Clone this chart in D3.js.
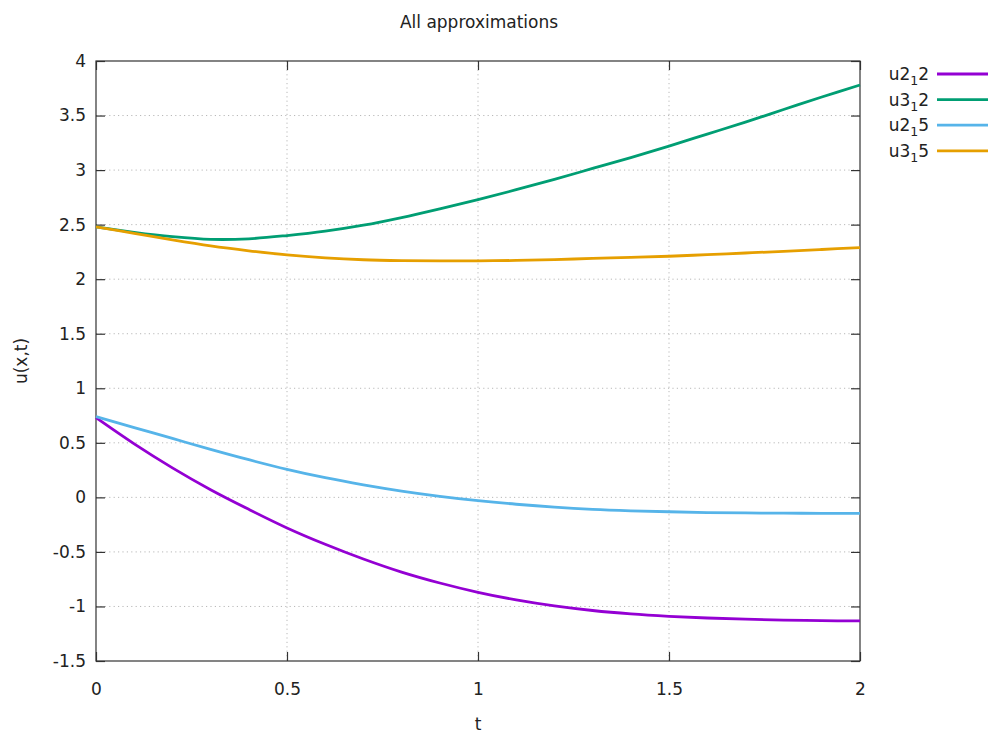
<!DOCTYPE html>
<html>
<head>
<meta charset="utf-8">
<script src="https://cdn.jsdelivr.net/npm/d3@7"></script>
<style>
  body { margin: 0; background: #fff; }
</style>
</head>
<body>
<svg id="chart" width="988" height="733"></svg>
<script>
// t values sampled along the curves
const tValues = [0, 0.1, 0.2, 0.3, 0.4, 0.5, 0.6, 0.7, 0.8, 0.9, 1.0,
                 1.1, 1.2, 1.3, 1.4, 1.5, 1.6, 1.7, 1.8, 1.9, 2.0];

const u2_1_2 = [0.73, 0.49, 0.27, 0.07, -0.11, -0.28, -0.43, -0.565, -0.685, -0.785, -0.87,
                -0.94, -0.995, -1.037, -1.068, -1.09, -1.106, -1.117, -1.125, -1.13, -1.133];
const u3_1_2 = [2.48, 2.43, 2.39, 2.365, 2.37, 2.40, 2.44, 2.495, 2.565, 2.645, 2.73,
                2.82, 2.915, 3.015, 3.115, 3.22, 3.33, 3.44, 3.555, 3.67, 3.78];
const u2_1_5 = [0.74, 0.64, 0.54, 0.44, 0.345, 0.257, 0.18, 0.115, 0.058, 0.01, -0.03,
                -0.063, -0.09, -0.11, -0.123, -0.132, -0.139, -0.143, -0.145, -0.146, -0.147];
const u3_1_5 = [2.48, 2.42, 2.36, 2.305, 2.26, 2.222, 2.195, 2.178, 2.17, 2.167, 2.168,
                2.172, 2.18, 2.19, 2.20, 2.21, 2.225, 2.24, 2.255, 2.272, 2.29];

const seriesNames = [['u2', '1', '2'], ['u3', '1', '2'], ['u2', '1', '5'], ['u3', '1', '5']];
const seriesValues = [u2_1_2, u3_1_2, u2_1_5, u3_1_5];
const seriesColors = ['#9400d3', '#009e73', '#56b4e9', '#e69f00'];

const xTicks = [0, 0.5, 1, 1.5, 2];
const yTicks = [-1.5, -1, -0.5, 0, 0.5, 1, 1.5, 2, 2.5, 3, 3.5, 4];

const fontFamily = '"DejaVu Sans", Verdana, sans-serif';
const fontSize = '17px';

const svg = d3.select('#chart');
const margin = { top: 61, right: 128, bottom: 72, left: 96 };
const width = +svg.attr('width') - margin.left - margin.right;
const height = +svg.attr('height') - margin.top - margin.bottom;

const xScale = d3.scaleLinear().domain([0, 2]).range([margin.left, margin.left + width]);
const yScale = d3.scaleLinear().domain([-1.5, 4]).range([margin.top + height, margin.top]);

// grid
const grid = svg.append('g').attr('stroke', '#b8b8b8').attr('stroke-width', 1)
    .attr('stroke-dasharray', '1.2,3.2');
grid.selectAll('line.gx')
    .data(xTicks.slice(1, -1))
    .join('line')
    .attr('x1', d => xScale(d)).attr('x2', d => xScale(d))
    .attr('y1', margin.top).attr('y2', margin.top + height);
grid.selectAll('line.gy')
    .data(yTicks.slice(1, -1))
    .join('line')
    .attr('x1', margin.left).attr('x2', margin.left + width)
    .attr('y1', d => yScale(d)).attr('y2', d => yScale(d));

// axes with inward ticks, mirrored
const tickLen = 9;
const axisColor = '#333';
const fmt = d => String(d);
const xAxisB = svg.append('g').attr('transform', `translate(0,${margin.top + height})`)
    .call(d3.axisBottom(xScale).tickValues(xTicks).tickSize(-tickLen).tickPadding(22).tickFormat(fmt));
const xAxisT = svg.append('g').attr('transform', `translate(0,${margin.top})`)
    .call(d3.axisTop(xScale).tickValues(xTicks).tickSize(-tickLen).tickFormat(''));
const yAxisL = svg.append('g').attr('transform', `translate(${margin.left},0)`)
    .call(d3.axisLeft(yScale).tickValues(yTicks).tickSize(-tickLen).tickPadding(10).tickFormat(fmt));
const yAxisR = svg.append('g').attr('transform', `translate(${margin.left + width},0)`)
    .call(d3.axisRight(yScale).tickValues(yTicks).tickSize(-tickLen).tickFormat(''));

[xAxisB, xAxisT, yAxisL, yAxisR].forEach(a => {
    a.select('.domain').remove();
    a.selectAll('line').attr('stroke', axisColor).attr('stroke-width', 1.2);
    a.selectAll('text')
        .style('font-family', fontFamily)
        .style('font-size', fontSize)
        .style('fill', '#222');
});

svg.append('rect')
    .attr('x', margin.left).attr('y', margin.top)
    .attr('width', width).attr('height', height)
    .attr('fill', 'none').attr('stroke', axisColor).attr('stroke-width', 1.2);

// curves
const line = d3.line()
    .x((d, i) => xScale(tValues[i]))
    .y(d => yScale(d))
    .curve(d3.curveCatmullRom);

svg.selectAll('path.series')
    .data(seriesValues)
    .join('path')
    .attr('class', 'series')
    .attr('fill', 'none')
    .attr('stroke', (d, i) => seriesColors[i])
    .attr('stroke-width', 2.8)
    .attr('d', line);

// labels helper
function label(sel) {
    return sel.style('font-family', fontFamily).style('font-size', fontSize).style('fill', '#222');
}

// legend
const legend = svg.append('g');
seriesNames.forEach((name, i) => {
    const y = 74 + i * 25.6;
    const txt = label(legend.append('text'))
        .attr('x', 929).attr('y', y + 6)
        .attr('text-anchor', 'end');
    txt.append('tspan').text(name[0]);
    txt.append('tspan').attr('dy', 5).style('font-size', '12.5px').text(name[1]);
    txt.append('tspan').attr('dy', -5).text(name[2]);
    legend.append('line')
        .attr('x1', 937).attr('x2', 990)
        .attr('y1', y).attr('y2', y)
        .attr('stroke', seriesColors[i]).attr('stroke-width', 2.8);
});

// titles
label(svg.append('text')).attr('x', 479).attr('y', 28).attr('text-anchor', 'middle').text('All approximations');
label(svg.append('text')).attr('x', 478).attr('y', 730).attr('text-anchor', 'middle').text('t');
label(svg.append('text'))
    .attr('transform', 'translate(27,361) rotate(-90)')
    .attr('text-anchor', 'middle')
    .text('u(x,t)');
</script>
</body>
</html>
